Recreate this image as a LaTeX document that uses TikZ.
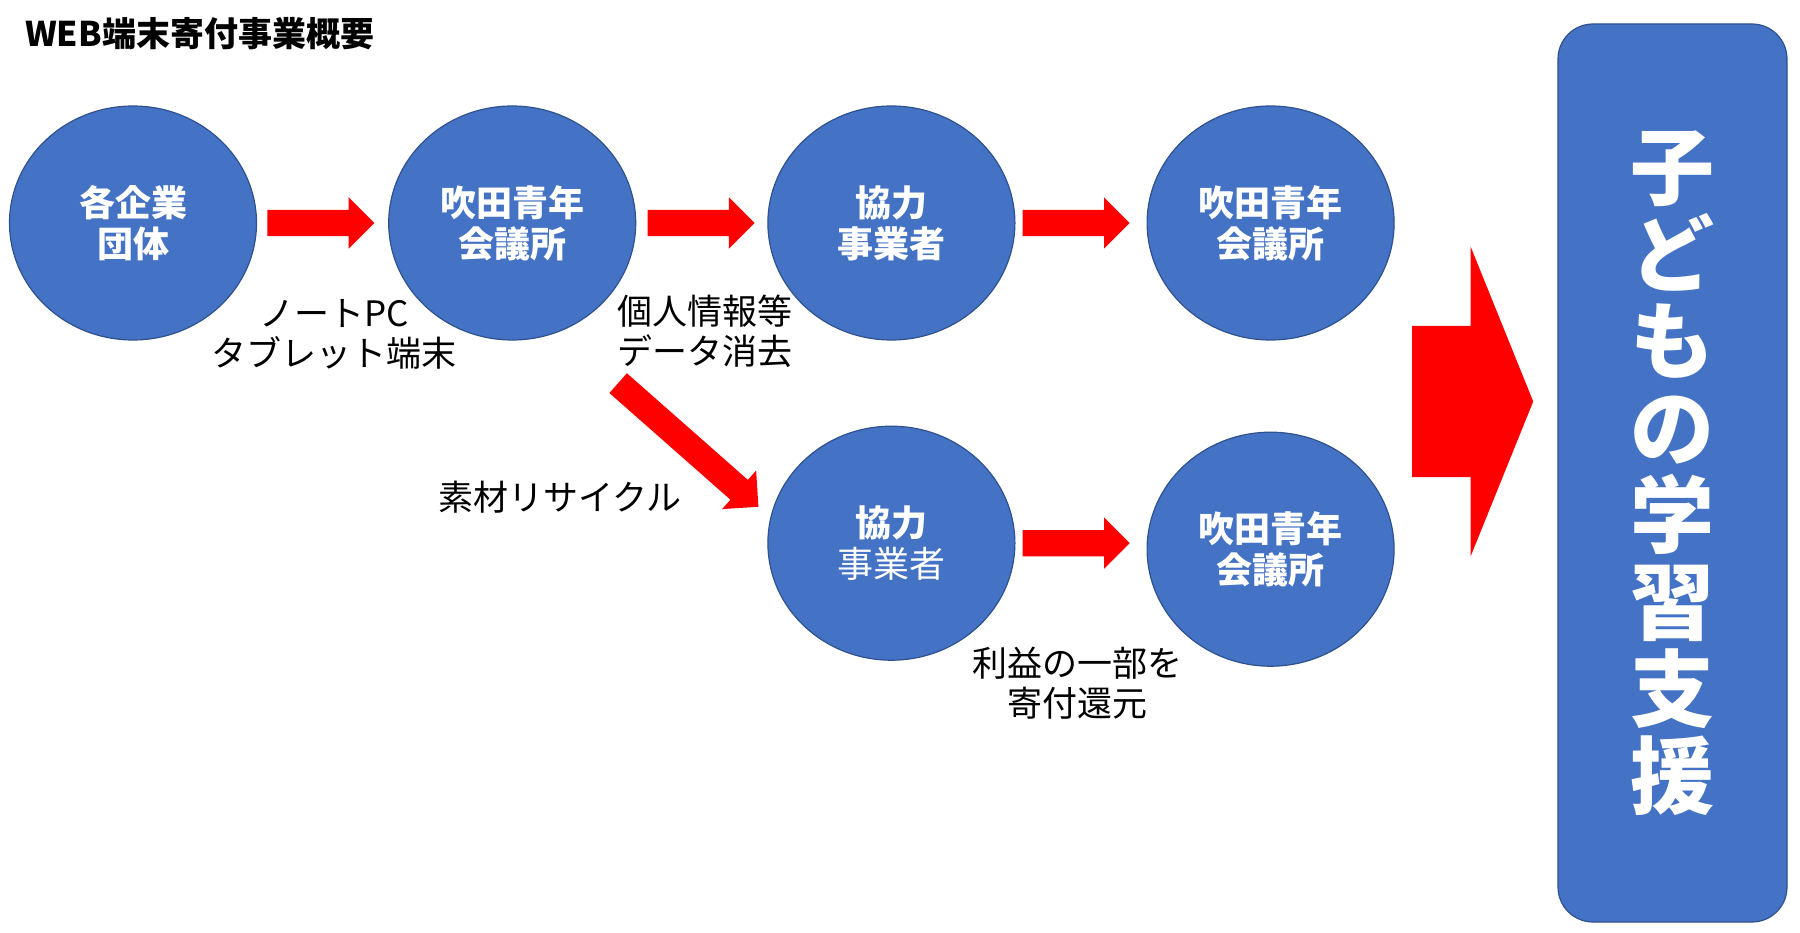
\documentclass[tikz,border=0pt]{standalone}
\usepackage{fontspec}
\setmainfont{Noto Sans CJK JP}
\usetikzlibrary{
  shapes.geometric,
  shapes.arrows,
  positioning
}
\definecolor{circleblue}{HTML}{4472C4}
\definecolor{rimblue}{HTML}{2F528F}
\tikzset{%
  x=1pt, y=-1pt, % one unit is one pixel of the sheet
  node distance=131pt, % gap between two circles of a row
  member/.style={%
    ellipse, draw=rimblue, line width=1.2pt, fill=circleblue,
    minimum width=247pt, minimum height=234pt, inner sep=0pt,
    text=white, align=center, font=\fontsize{36}{41}\selectfont\bfseries
  },
  flow/.style={%
    single arrow, fill=red, draw=none, inner xsep=0pt, inner ysep=13pt,
    text height=0pt, text depth=0pt, single arrow head extend=12.5pt,
    minimum height=107pt
  },
  note/.style={align=center, inner sep=0pt, font=\fontsize{35}{40}\selectfont}
}

\begin{document}
\begin{tikzpicture}
  \useasboundingbox (0,0) rectangle (1800,933);
  \node [anchor=west, inner sep=0pt, font=\fontsize{34}{40}\selectfont\bfseries] (title) at (25,34) {WEB端末寄付事業概要};
  % upper row
  \node [member] (e1) at (133,223) {各企業\\団体};
  \node [member, right=of e1] (s1) {吹田青年\\会議所};
  \node [member, right=of s1] (k1) {協力\\事業者};
  \node [member, right=of k1] (s2) {吹田青年\\会議所};
  % lower row
  \node [member, below=85pt of k1] (k2) {協力\\{\mdseries 事業者}};
  \node [member, below=91pt of s2] (s3) {吹田青年\\会議所};
  \foreach \a/\g [count=\i] in {e1/10pt, s1/11pt, k1/7pt, k2/7pt}{%
    \node [flow, right=\g of \a] (f\i) {};
  }
  \coordinate (cut) at (618,383);
  \node [flow, rotate=-41.4, minimum height=187pt, anchor=tail] (f5) at (cut) {};
  \node [note] (pc) at (334,334) {ノートPC\\タブレット端末};
  \node [note, anchor=west, align=left] (erase) at (617,331) {個人情報等\\データ消去};
  \node [note] (recycle) at (560,497) {素材リサイクル};
  \node [note] (gift) at (1077,683) {利益の一部を\\寄付還元};
  % goal
  \coordinate (bigtail) at (1412,401.5);
  \node [flow, inner ysep=75.5pt, single arrow head extend=79pt, single arrow tip angle=136,
    minimum height=121pt, anchor=tail] (big) at (bigtail) {};
  \node [draw=rimblue, line width=1.2pt, fill=circleblue, rounded corners=35pt,
    minimum width=229pt, minimum height=898pt, text=white, align=center,
    font=\fontsize{84}{87}\selectfont\bfseries] (goal) at (1672.5,473)
    {子\\ど\\も\\の\\学\\習\\支\\援};
\end{tikzpicture}
\end{document}
